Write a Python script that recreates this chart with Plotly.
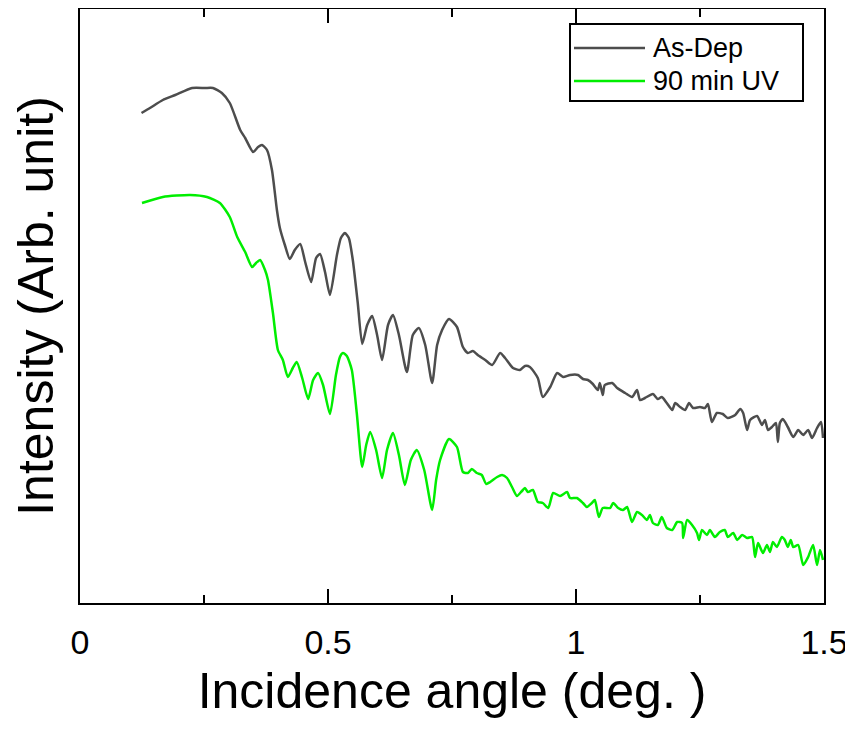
import plotly.graph_objects as go

# As-Dep curve (x in degrees, intensity in arbitrary units)
asdep_x = [0.124, 0.141, 0.167, 0.192, 0.226, 0.252, 0.268, 0.286, 0.302, 0.323, 0.333, 0.349, 0.359, 0.367,
           0.377, 0.387, 0.397, 0.403, 0.413, 0.423, 0.433, 0.444, 0.454, 0.466, 0.476, 0.484, 0.494, 0.504,
           0.518, 0.526, 0.534, 0.542, 0.550, 0.560, 0.569, 0.579, 0.589, 0.599, 0.609, 0.621, 0.631, 0.643,
           0.659, 0.671, 0.683, 0.696, 0.710, 0.720, 0.730, 0.744, 0.760, 0.772, 0.782, 0.792, 0.802, 0.817,
           0.831, 0.847, 0.857, 0.873, 0.887, 0.897, 0.907, 0.923, 0.933, 0.948, 0.962, 0.974, 0.988, 1.004,
           1.014, 1.024, 1.034, 1.044, 1.048, 1.054, 1.058, 1.073, 1.083, 1.099, 1.113, 1.123, 1.129, 1.139,
           1.155, 1.165, 1.173, 1.183, 1.194, 1.200, 1.210, 1.220, 1.228, 1.236, 1.250, 1.260, 1.266, 1.274,
           1.284, 1.296, 1.306, 1.321, 1.331, 1.337, 1.345, 1.351, 1.365, 1.375, 1.381, 1.387, 1.395, 1.403,
           1.407, 1.411, 1.417, 1.427, 1.438, 1.448, 1.458, 1.468, 1.476, 1.486, 1.494, 1.498]
asdep_y = [490, 495, 503, 508, 515, 515, 515, 510, 500, 473, 465, 451, 456, 458,
           453, 433, 393, 375, 358, 344, 353, 359, 341, 321, 345, 349, 331, 308,
           348, 365, 370, 365, 343, 300, 259, 278, 287, 268, 243, 278, 288, 268,
           231, 268, 275, 258, 220, 258, 273, 284, 276, 256, 250, 252, 248, 243,
           238, 250, 245, 235, 233, 237, 236, 225, 206, 216, 230, 226, 228, 228,
           224, 223, 219, 213, 220, 208, 218, 220, 215, 210, 206, 213, 203, 205,
           209, 204, 206, 200, 193, 200, 196, 193, 200, 195, 196, 195, 199, 181,
           190, 189, 185, 188, 194, 190, 173, 183, 187, 178, 183, 173, 176, 180,
           161, 180, 184, 176, 166, 173, 168, 173, 165, 175, 181, 165]

# 90 min UV curve
uv_x = [0.125, 0.167, 0.222, 0.256, 0.282, 0.302, 0.317, 0.333, 0.347, 0.355, 0.363, 0.373, 0.379, 0.389,
        0.399, 0.409, 0.419, 0.429, 0.437, 0.448, 0.460, 0.470, 0.480, 0.490, 0.504, 0.516, 0.524, 0.530,
        0.538, 0.548, 0.558, 0.569, 0.577, 0.585, 0.597, 0.609, 0.619, 0.631, 0.643, 0.655, 0.667, 0.679,
        0.694, 0.710, 0.718, 0.726, 0.744, 0.760, 0.772, 0.782, 0.790, 0.800, 0.810, 0.819, 0.827, 0.841,
        0.851, 0.861, 0.871, 0.881, 0.891, 0.897, 0.903, 0.913, 0.923, 0.933, 0.944, 0.954, 0.968, 0.982,
        0.988, 1.002, 1.014, 1.022, 1.032, 1.038, 1.046, 1.054, 1.069, 1.075, 1.085, 1.095, 1.103, 1.113,
        1.123, 1.133, 1.143, 1.149, 1.155, 1.165, 1.173, 1.183, 1.194, 1.204, 1.214, 1.216, 1.224, 1.234,
        1.244, 1.248, 1.254, 1.264, 1.270, 1.280, 1.290, 1.300, 1.306, 1.317, 1.325, 1.335, 1.345, 1.355,
        1.361, 1.367, 1.377, 1.385, 1.391, 1.397, 1.405, 1.415, 1.421, 1.427, 1.433, 1.438, 1.448, 1.458,
        1.468, 1.478, 1.486, 1.492, 1.498]
uv_y = [400, 406, 408, 406, 400, 386, 366, 351, 336, 340, 343, 333, 323, 290,
        253, 243, 226, 235, 241, 225, 204, 223, 230, 218, 189, 228, 246, 250,
        247, 233, 190, 136, 158, 171, 153, 125, 153, 170, 148, 118, 143, 153,
        133, 93, 123, 143, 164, 156, 131, 130, 134, 130, 128, 119, 121, 126,
        128, 125, 116, 107, 112, 115, 111, 113, 101, 100, 95, 110, 107, 111,
        105, 105, 100, 96, 100, 103, 86, 95, 95, 100, 95, 93, 96, 81,
        91, 88, 83, 88, 80, 78, 86, 75, 73, 81, 80, 65, 83, 78,
        70, 63, 73, 68, 73, 66, 71, 73, 66, 70, 63, 68, 65, 66,
        46, 60, 50, 58, 51, 61, 56, 66, 63, 56, 63, 56, 58, 38,
        46, 58, 38, 53, 43]

series_names = ["As-Dep", "90 min UV"]
series_colors = ["#4d4d4d", "#00ee00"]

FONT = "Arial, 'Liberation Sans', sans-serif"

fig = go.Figure()
fig.add_trace(go.Scatter(x=asdep_x, y=asdep_y, mode="lines", name=series_names[0],
                         line=dict(color=series_colors[0], width=2.5, shape="spline", smoothing=0.6),
                         showlegend=False))
fig.add_trace(go.Scatter(x=uv_x, y=uv_y, mode="lines", name=series_names[1],
                         line=dict(color=series_colors[1], width=2.5, shape="spline", smoothing=0.6),
                         showlegend=False))

# The page body adds an 8 px margin, so the figure is sized and laid out 8 px smaller.
OFF = 8
W, H = 853 - OFF, 729 - 2 * OFF
# plot area edges, in screen pixels of the final picture
SL, SR, ST, SB = 80, 824, 9, 603
L, R, T, B = SL - OFF, SR - OFF, ST - OFF, SB - OFF
def px(xs):
    return (xs - SL) / (SR - SL)
def py(ys):
    return (SB - ys) / (SB - ST)

shapes = [
    dict(type="rect", xref="paper", yref="paper", x0=px(570), x1=px(803), y0=py(101), y1=py(24),
         line=dict(color="black", width=2), fillcolor="white", layer="above"),
]
annotations = []
for i, (nm, col) in enumerate(zip(series_names, series_colors)):
    yy = 48 + i * 33
    shapes.append(dict(type="line", xref="paper", yref="paper", x0=px(574), x1=px(645),
                       y0=py(yy), y1=py(yy), line=dict(color=col, width=2.5), layer="above"))
    annotations.append(dict(text=nm, xref="paper", yref="paper", x=px(651), y=py(yy),
                            xanchor="left", yanchor="middle", showarrow=False,
                            font=dict(family=FONT, size=27, color="black")))

fig.update_layout(
    width=W, height=H,
    margin=dict(l=L, r=W - R, t=T, b=H - B, autoexpand=False),
    paper_bgcolor="white", plot_bgcolor="white",
    font=dict(family=FONT, color="black"),
    shapes=shapes, annotations=annotations,
)
fig.update_xaxes(
    range=[0, 1.5], tickmode="linear", tick0=0, dtick=0.5,
    ticks="inside", ticklen=14, tickwidth=2, tickcolor="black",
    minor=dict(tick0=0, dtick=0.25, ticks="inside", ticklen=8, tickwidth=2, tickcolor="black",
               showgrid=False),
    showline=True, linewidth=2, linecolor="black", mirror="allticks",
    showgrid=False, zeroline=False, automargin=False,
    tickfont=dict(family=FONT, size=34, color="black"),
    ticklabelstandoff=8,
    title=dict(text="Incidence angle (deg. )", font=dict(family=FONT, size=50, color="black"), standoff=13),
)
fig.update_yaxes(
    range=[0, SB - ST], showticklabels=False, ticks="",
    showline=True, linewidth=2, linecolor="black", mirror=True,
    showgrid=False, zeroline=False, automargin=False,
    title=dict(text="Intensity (Arb. unit)", font=dict(family=FONT, size=50, color="black"), standoff=12),
)
fig.write_html("out.html")
